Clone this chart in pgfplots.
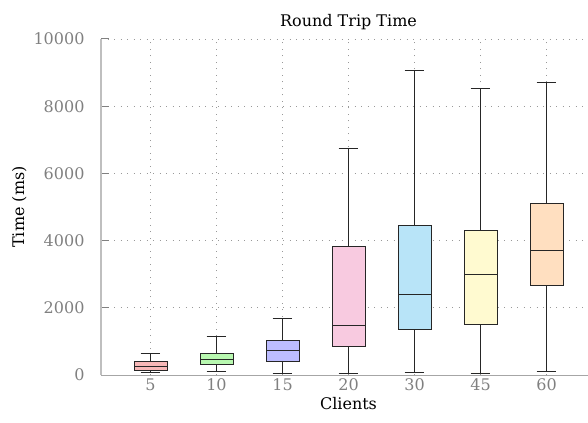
\documentclass[border=0pt]{standalone}
\usepackage{fontspec}
\setmainfont{DejaVu Serif}
\usepackage{pgfplots}
\pgfplotsset{compat=1.18}
\usepgfplotslibrary{statistics}
\definecolor{c1}{HTML}{F8B8B8}
\definecolor{c2}{HTML}{B8F8B0}
\definecolor{c3}{HTML}{BCBCFF}
\definecolor{c4}{HTML}{F8CAE0}
\definecolor{c5}{HTML}{B8E4F8}
\definecolor{c6}{HTML}{FFFAD0}
\definecolor{c7}{HTML}{FFDFC0}
\begin{document}
\begin{tikzpicture}
\begin{axis}[
  name=ax,
  scale only axis,
  width=495pt, height=336pt,
  xmin=-0.75, xmax=6.75,
  ymin=0, ymax=10000,
  xtick={0,1,2,3,4,5,6},
  xticklabels={5,10,15,20,30,45,60},
  ytick={0,2000,4000,6000,8000,10000},
  scaled y ticks=false,
  /pgf/number format/assume math mode=true,
  /pgf/number format/1000 sep={},
  font=\fontsize{16}{19}\selectfont,
  ticklabel style={text=gray, font=\fontsize{16}{19}\selectfont},
  label style={font=\fontsize{16}{19}\selectfont},
  title style={font=\fontsize{16}{19}\selectfont},
  yticklabel style={xshift=-13pt},
  axis x line=bottom, axis y line=left,
  x axis line style={-, draw=gray!70, line width=1pt},
  y axis line style={-, draw=gray!50, line width=2pt},
  xtick style={draw=none},
  ytick style={draw=gray, line width=1pt},
  major tick length=8pt, tick align=inside,
  grid=major,
  grid style={draw=gray!80, line width=0.9pt, dash pattern=on 1pt off 5.5pt},
  title={Round Trip Time},
  xlabel={Clients},
  ylabel={Time (ms)},
  boxplot/draw direction=y,
  boxplot/box extend=0.5,
  boxplot/whisker extend=0.3,
]
\addplot[draw=black!85, line width=0.9pt, fill=c1, boxplot prepared={draw position=0, lower whisker=68, lower quartile=140, median=268, upper quartile=396, upper whisker=646}] coordinates {};
\addplot[draw=black!85, line width=0.9pt, fill=c2, boxplot prepared={draw position=1, lower whisker=110, lower quartile=327, median=467, upper quartile=655, upper whisker=1152}] coordinates {};
\addplot[draw=black!85, line width=0.9pt, fill=c3, boxplot prepared={draw position=2, lower whisker=50, lower quartile=408, median=735, upper quartile=1042, upper whisker=1687}] coordinates {};
\addplot[draw=black!85, line width=0.9pt, fill=c4, boxplot prepared={draw position=3, lower whisker=40, lower quartile=854, median=1479, upper quartile=3830, upper whisker=6735}] coordinates {};
\addplot[draw=black!85, line width=0.9pt, fill=c5, boxplot prepared={draw position=4, lower whisker=68, lower quartile=1360, median=2402, upper quartile=4444, upper whisker=9077}] coordinates {};
\addplot[draw=black!85, line width=0.9pt, fill=c6, boxplot prepared={draw position=5, lower whisker=60, lower quartile=1518, median=2986, upper quartile=4306, upper whisker=8522}] coordinates {};
\addplot[draw=black!85, line width=0.9pt, fill=c7, boxplot prepared={draw position=6, lower whisker=98, lower quartile=2679, median=3720, upper quartile=5098, upper whisker=8720}] coordinates {};
\end{axis}
\pgfresetboundingbox
\path ([shift={(-101pt,-47pt)}]ax.south west) rectangle ([shift={(-8pt,39pt)}]ax.north east);
\end{tikzpicture}
\end{document}
